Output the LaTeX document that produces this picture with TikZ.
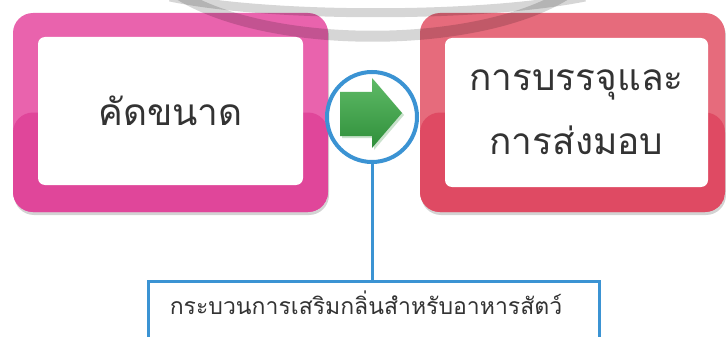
\documentclass[tikz,border=0pt]{standalone}
\usepackage{fontspec}
\newfontfamily\thaifont[Script=Thai]{Loma}
\usetikzlibrary{shadows}
\definecolor{pinkA}{HTML}{E963AD}
\definecolor{pinkB}{HTML}{E0469A}
\definecolor{redA}{HTML}{E66B7C}
\definecolor{redB}{HTML}{DF4A63}
\definecolor{ringblue}{HTML}{3B93D3}
\definecolor{arrowgreen}{HTML}{4DB356}
\definecolor{arrowdark}{HTML}{2F8F3A}
\definecolor{txt}{HTML}{333333}
\tikzset{
  outerbox/.style={draw=none, rounded corners=20pt, minimum width=#1, minimum height=199pt,
    drop shadow={shadow xshift=1pt, shadow yshift=-3pt, opacity=0.35}},
  innerbox/.style={fill=white, rounded corners=7pt, inner sep=0pt, text=txt,
    font=\thaifont\fontsize{37}{64}\selectfont, align=center},
  twotone/.style 2 args={fill=#1, path picture={\fill[#2] (path picture bounding box.west) rectangle (path picture bounding box.south east);}},
  hub/.style={circle, draw=ringblue, line width=4pt, fill=white, minimum size=90pt, inner sep=0pt},
  link/.style={draw=ringblue, line width=3pt},
  notebox/.style={draw=ringblue, line width=2.5pt, fill=white, minimum width=451pt, minimum height=110pt,
    inner sep=0pt},
  notelabel/.style={text=txt, font=\thaifont\fontsize{23}{26}\selectfont, inner sep=0pt},
  watermark/.style={draw=black, opacity=0.16, line width=#1}
}
\begin{document}
\begin{tikzpicture}[x=1pt,y=-1pt]
\useasboundingbox (0,0) rectangle (726,337);
% boxes
\node[outerbox=315pt, twotone={pinkA}{pinkB}] (left) at (170.5,112.5) {};
\node[outerbox=305pt, twotone={redA}{redB}] (right) at (572.5,112.5) {};
\node[innerbox, minimum width=265pt, minimum height=148pt] (lefttext) at (170.5,111) {คัดขนาด};
\node[innerbox, minimum width=263pt, minimum height=149pt] (righttext) at (576.5,112.5) {การบรรจุและ\\การส่งมอบ};
% watermark arcs
\draw[watermark=9pt] (170,-3) .. controls (270,18) and (480,18) .. (585,-3);
\draw[watermark=11pt] (180,-5) .. controls (270,50) and (475,50) .. (565,-5);
% hub with arrow
\node[hub] (hub) at (372,117) {};
\fill[arrowdark, opacity=0.25] (342,94) -- (374,94) -- (374,80) -- (404,115) -- (374,150) -- (374,138) -- (342,138) -- cycle;
\shade[top color=arrowgreen!90!white, bottom color=arrowdark, shading angle=0]
  (340,92) -- (372,92) -- (372,78) -- (402,113) -- (372,148) -- (372,136) -- (340,136) -- cycle;
% note
\node[notebox, anchor=north] (note) at (374,280) {};
\node[notelabel] (notetext) at (366,303) {กระบวนการเสริมกลิ่นสำหรับอาหารสัตว์};
\draw[link] (hub.south) -- (note.north -| hub.south);
\end{tikzpicture}
\end{document}
